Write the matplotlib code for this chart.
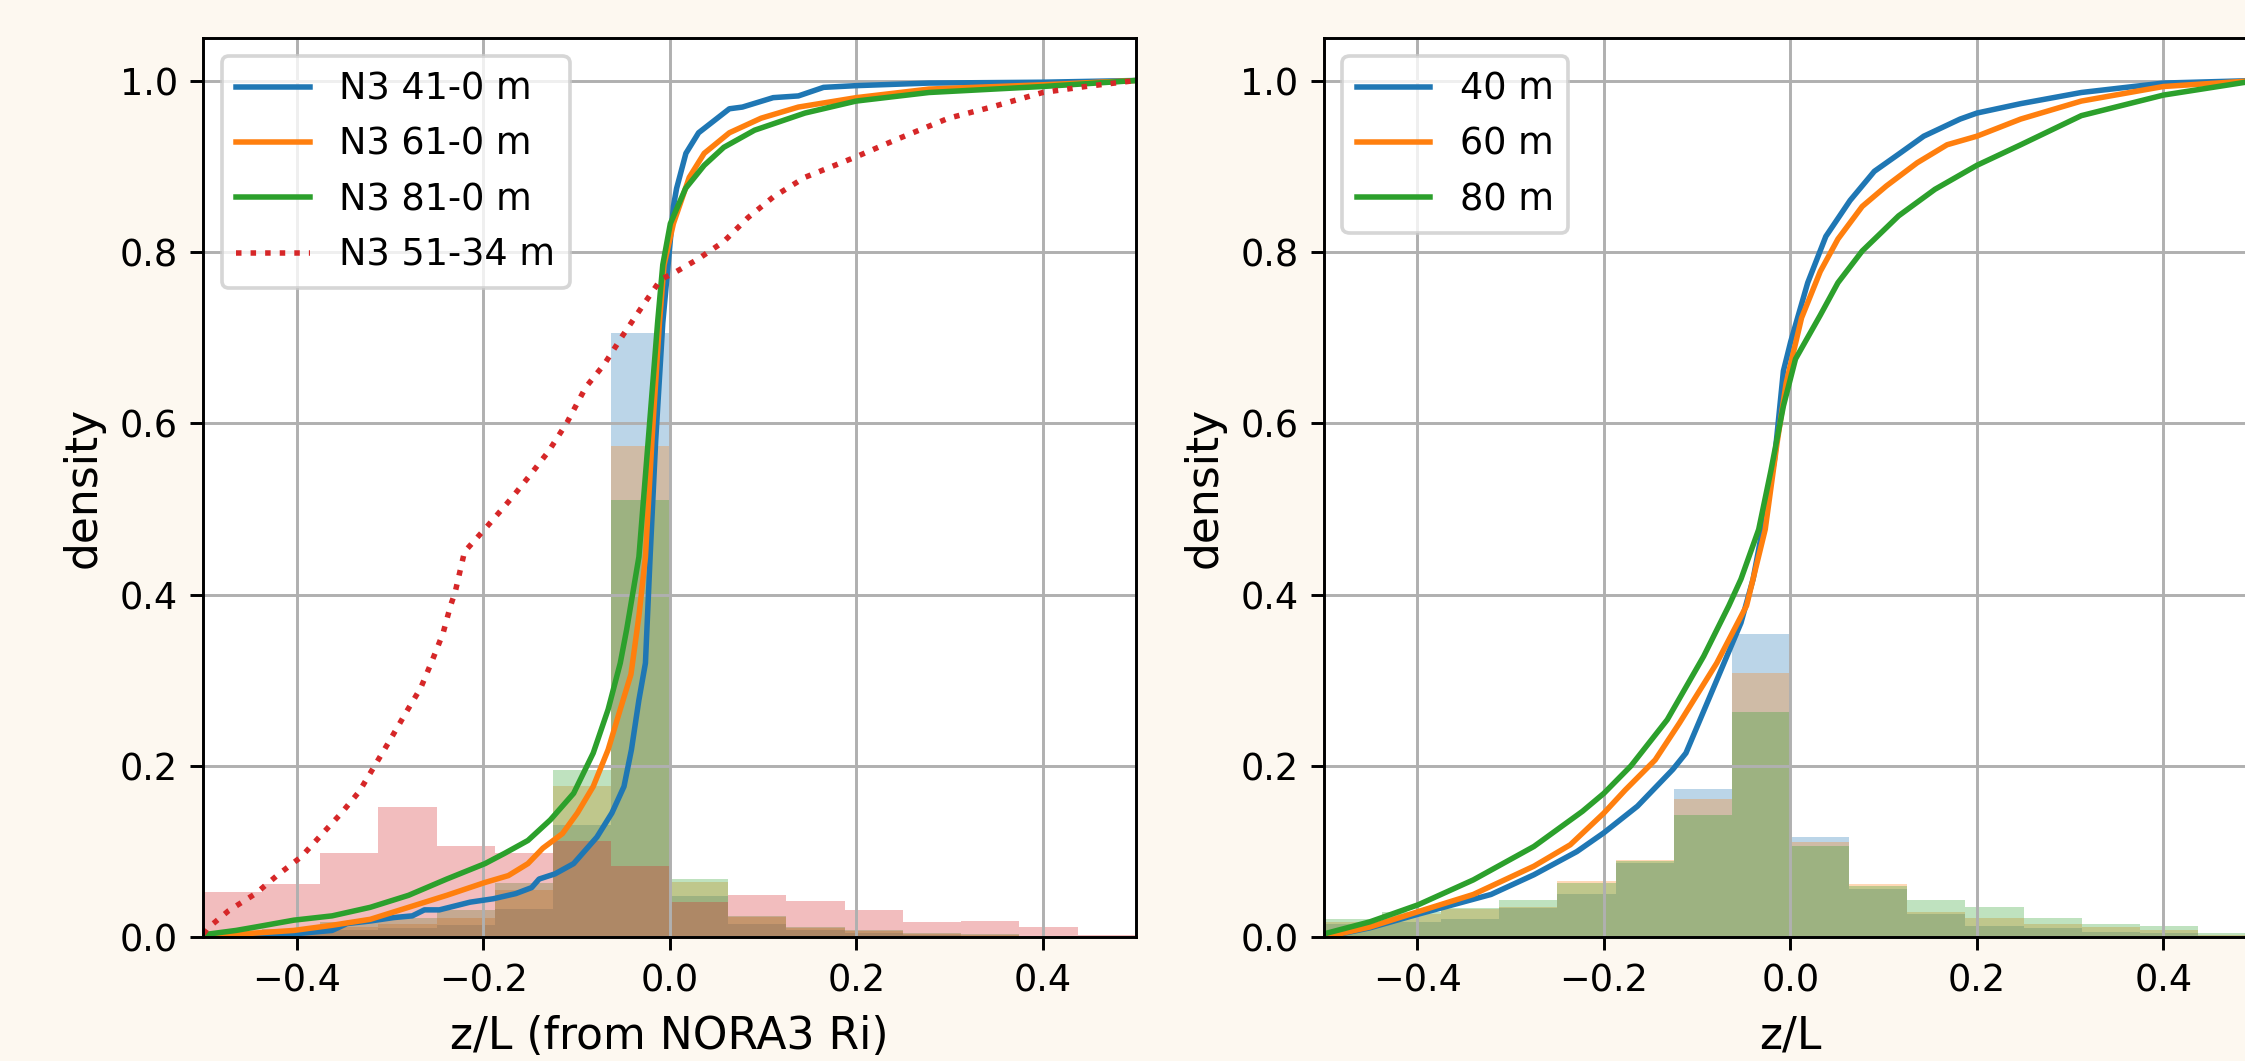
import matplotlib
matplotlib.use("Agg")
import matplotlib.pyplot as plt
import numpy as np

# bin edges shared by all histograms
edges = np.linspace(-0.5, 0.5, 17)
centers = 0.5 * (edges[:-1] + edges[1:])

# ---- left panel: N3 (NORA3 Ri) ----
h_n3_41 = [0.002, 0.005, 0.009, 0.011, 0.014, 0.033, 0.131, 0.705,
           0.048, 0.016, 0.008, 0.005, 0.003, 0.002, 0.001, 0.001]
h_n3_61 = [0.004, 0.007, 0.012, 0.015, 0.023, 0.055, 0.177, 0.573,
           0.064, 0.024, 0.011, 0.007, 0.004, 0.003, 0.002, 0.001]
h_n3_81 = [0.006, 0.010, 0.018, 0.022, 0.032, 0.063, 0.195, 0.510,
           0.068, 0.025, 0.012, 0.008, 0.005, 0.004, 0.002, 0.001]
h_n3_5134 = [0.053, 0.062, 0.098, 0.152, 0.107, 0.098, 0.112, 0.083,
             0.041, 0.049, 0.042, 0.032, 0.018, 0.019, 0.012, 0.003]

x_n3_41 = [-0.5, -0.45, -0.403, -0.362, -0.346, -0.321, -0.296, -0.276, -0.263, -0.247,
           -0.214, -0.189, -0.165, -0.148, -0.140, -0.123, -0.103, -0.078, -0.062,
           -0.049, -0.041, -0.033, -0.026, -0.021, -0.015, -0.0074, 0.004, 0.0074,
           0.0174, 0.031, 0.064, 0.078, 0.111, 0.138, 0.165, 0.2, 0.278, 0.4, 0.5]
y_n3_41 = [0.0, 0.002, 0.004, 0.008, 0.016, 0.019, 0.023, 0.025, 0.032, 0.032,
           0.041, 0.045, 0.051, 0.058, 0.068, 0.074, 0.086, 0.117, 0.145,
           0.176, 0.219, 0.277, 0.320, 0.444, 0.58, 0.717, 0.853, 0.874,
           0.915, 0.939, 0.967, 0.969, 0.980, 0.982, 0.992, 0.994, 0.997, 0.998, 1.0]

x_n3_61 = [-0.5, -0.444, -0.403, -0.362, -0.321, -0.280, -0.239, -0.198, -0.173, -0.152,
           -0.136, -0.115, -0.099, -0.082, -0.066, -0.053, -0.0415, -0.033, -0.026,
           -0.019, -0.011, -0.006, 0.004, 0.021, 0.037, 0.064, 0.098, 0.138, 0.2,
           0.278, 0.4, 0.5]
y_n3_61 = [0.0, 0.005, 0.008, 0.014, 0.021, 0.035, 0.049, 0.064, 0.072, 0.086,
           0.104, 0.121, 0.145, 0.176, 0.219, 0.266, 0.307, 0.375, 0.444,
           0.58, 0.717, 0.785, 0.833, 0.887, 0.915, 0.939, 0.956, 0.969, 0.980,
           0.990, 0.995, 1.0]

x_n3_81 = [-0.5, -0.465, -0.444, -0.403, -0.362, -0.321, -0.280, -0.239, -0.198, -0.177,
           -0.152, -0.128, -0.103, -0.082, -0.066, -0.053, -0.046, -0.033, -0.023,
           -0.013, -0.0074, 0.0007, 0.017, 0.037, 0.058, 0.091, 0.145, 0.2, 0.278,
           0.4, 0.5]
y_n3_81 = [0.003, 0.008, 0.012, 0.020, 0.025, 0.035, 0.049, 0.068, 0.086, 0.098,
           0.113, 0.137, 0.168, 0.215, 0.266, 0.320, 0.307, 0.444, 0.58,
           0.717, 0.785, 0.833, 0.874, 0.901, 0.922, 0.942, 0.962, 0.976, 0.986,
           0.993, 1.0]

x_n3_5134 = [-0.5, -0.496, -0.473, -0.444, -0.420, -0.395, -0.374, -0.352, -0.333, -0.317,
             -0.300, -0.284, -0.267, -0.255, -0.243, -0.235, -0.230, -0.220, -0.197,
             -0.170, -0.150, -0.130, -0.110, -0.090, -0.070, -0.050, -0.029, -0.0094,
             0.004, 0.031, 0.058, 0.084, 0.111, 0.145, 0.2, 0.245, 0.299, 0.345, 0.4,
             0.446, 0.5]
y_n3_5134 = [0.004, 0.010, 0.031, 0.051, 0.073, 0.094, 0.119, 0.145, 0.170, 0.199,
             0.230, 0.260, 0.291, 0.322, 0.355, 0.387, 0.403, 0.450, 0.478,
             0.512, 0.539, 0.567, 0.601, 0.642, 0.669, 0.703, 0.737, 0.768,
             0.775, 0.792, 0.812, 0.840, 0.864, 0.887, 0.911, 0.932, 0.956, 0.969, 0.986,
             0.993, 1.0]

# ---- right panel: 40/60/80 m ----
h_40 = [0.015, 0.018, 0.021, 0.034, 0.051, 0.087, 0.173, 0.354,
        0.117, 0.056, 0.027, 0.013, 0.011, 0.006, 0.005, 0.002]
h_60 = [0.018, 0.027, 0.033, 0.035, 0.066, 0.090, 0.161, 0.308,
        0.111, 0.062, 0.030, 0.022, 0.016, 0.012, 0.009, 0.003]
h_80 = [0.021, 0.030, 0.034, 0.044, 0.063, 0.089, 0.143, 0.263,
        0.106, 0.060, 0.044, 0.035, 0.022, 0.016, 0.013, 0.005]

x_40 = [-0.5, -0.451, -0.399, -0.321, -0.275, -0.229, -0.200, -0.164, -0.126, -0.112,
        -0.079, -0.053, -0.040, -0.030, -0.017, -0.0075, 0.0003, 0.0186, 0.038,
        0.064, 0.090, 0.116, 0.143, 0.182, 0.200, 0.247, 0.312, 0.400, 0.5]
y_40 = [0.0, 0.011, 0.027, 0.050, 0.073, 0.100, 0.122, 0.153, 0.196, 0.215,
        0.300, 0.367, 0.418, 0.476, 0.558, 0.661, 0.695, 0.764, 0.818,
        0.860, 0.894, 0.914, 0.935, 0.955, 0.962, 0.973, 0.986, 0.997, 1.0]

x_60 = [-0.5, -0.451, -0.399, -0.340, -0.275, -0.236, -0.200, -0.177, -0.145, -0.119,
        -0.079, -0.047, -0.027, -0.014, -0.0045, 0.012, 0.032, 0.051, 0.077,
        0.103, 0.136, 0.168, 0.200, 0.247, 0.312, 0.400, 0.5]
y_60 = [0.0, 0.012, 0.030, 0.050, 0.083, 0.108, 0.145, 0.172, 0.207, 0.250,
        0.320, 0.387, 0.476, 0.579, 0.647, 0.723, 0.777, 0.815, 0.853,
        0.877, 0.904, 0.925, 0.935, 0.955, 0.976, 0.993, 1.0]

x_80 = [-0.5, -0.451, -0.399, -0.340, -0.275, -0.223, -0.200, -0.171, -0.132, -0.093,
        -0.066, -0.053, -0.034, -0.021, -0.0075, 0.0055, 0.032, 0.051, 0.077,
        0.116, 0.155, 0.200, 0.247, 0.312, 0.400, 0.5]
y_80 = [0.004, 0.018, 0.038, 0.067, 0.106, 0.147, 0.168, 0.200, 0.254, 0.328,
        0.387, 0.418, 0.476, 0.544, 0.620, 0.675, 0.726, 0.764, 0.801,
        0.842, 0.873, 0.901, 0.925, 0.959, 0.983, 1.0]

# fix a misread point in the 81-0 m curve (monotone order)
y_n3_81[16] = 0.36

fig = plt.figure(figsize=(2245 / 264, 1061 / 264), dpi=264, facecolor="#fdf8f0")
ax1 = fig.add_axes([0.0906, 0.1166, 0.4154, 0.8479])
ax2 = fig.add_axes([0.5898, 0.1166, 0.4154, 0.8479])

ax1.hist(centers, bins=edges, weights=h_n3_41, color="C0", alpha=0.3)
ax1.hist(centers, bins=edges, weights=h_n3_61, color="C1", alpha=0.3)
ax1.hist(centers, bins=edges, weights=h_n3_81, color="C2", alpha=0.3)
ax1.hist(centers, bins=edges, weights=h_n3_5134, color="C3", alpha=0.3)
ax1.plot(x_n3_41, y_n3_41, color="C0", lw=1.5, label="N3 41-0 m")
ax1.plot(x_n3_61, y_n3_61, color="C1", lw=1.5, label="N3 61-0 m")
ax1.plot(x_n3_81, y_n3_81, color="C2", lw=1.5, label="N3 81-0 m")
ax1.plot(x_n3_5134, y_n3_5134, color="C3", lw=1.5, ls=":", label="N3 51-34 m")
ax1.set_xlabel("z/L (from NORA3 Ri)", fontsize=12)

ax2.hist(centers, bins=edges, weights=h_40, color="C0", alpha=0.3)
ax2.hist(centers, bins=edges, weights=h_60, color="C1", alpha=0.3)
ax2.hist(centers, bins=edges, weights=h_80, color="C2", alpha=0.3)
ax2.plot(x_40, y_40, color="C0", lw=1.5, label="40 m")
ax2.plot(x_60, y_60, color="C1", lw=1.5, label="60 m")
ax2.plot(x_80, y_80, color="C2", lw=1.5, label="80 m")
ax2.set_xlabel("z/L", fontsize=12)

for ax in (ax1, ax2):
    ax.set_xlim(-0.5, 0.5)
    ax.set_ylim(0, 1.05)
    ax.set_ylabel("density", fontsize=12)
    ax.tick_params(labelsize=10)
    ax.grid(True)
    ax.legend(loc="upper left", fontsize=10)

fig.savefig("out.png", dpi=264, facecolor=fig.get_facecolor())
